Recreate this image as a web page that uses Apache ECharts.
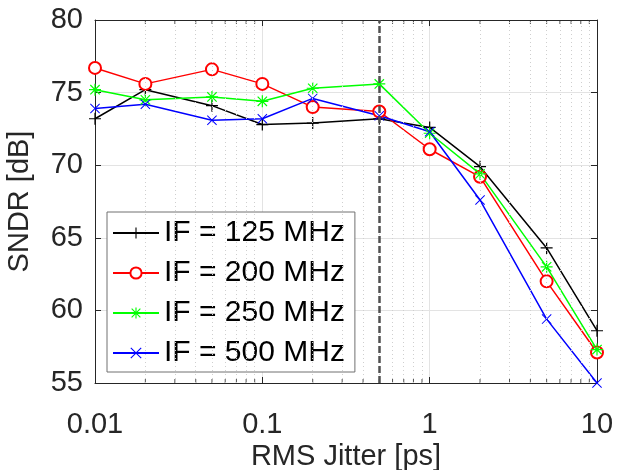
<!DOCTYPE html>
<html>
<head>
<meta charset="utf-8">
<script src="https://cdn.jsdelivr.net/npm/echarts@6/dist/echarts.min.js"></script>
<style>
html,body{margin:0;padding:0;background:#fff;}
#chart{width:621px;height:470px;}
</style>
</head>
<body>
<div id="chart"></div>
<script>
// ---- data ----
const jitter = [0.01, 0.02, 0.05, 0.1, 0.2, 0.5, 1, 2, 5, 10];
const seriesNames = ['IF = 125 MHz', 'IF = 200 MHz', 'IF = 250 MHz', 'IF = 500 MHz'];
const if125 = [73.2, 75.2, 74.1, 72.8, 72.9, 73.2, 72.6, 69.9, 64.3, 58.6];
const if200 = [76.7, 75.6, 76.6, 75.6, 74.0, 73.7, 71.1, 69.2, 62.0, 57.1];
const if250 = [75.2, 74.5, 74.7, 74.4, 75.3, 75.6, 72.2, 69.4, 63.0, 57.3];
const if500 = [73.9, 74.2, 73.1, 73.2, 74.6, 73.4, 72.3, 67.6, 59.4, 55.0];
const xTickLabels = ['0.01', '0.1', '1', '10'];
const yTicks = [55, 60, 65, 70, 75, 80];
const minorX = [0.02,0.03,0.04,0.05,0.06,0.07,0.08,0.09,0.2,0.3,0.4,0.5,0.6,0.7,0.8,0.9,2,3,4,5,6,7,8,9];
const refJitter = 0.5;

// ---- styling ----
const FONT = '"Liberation Sans", Arial, Helvetica, sans-serif';
const AX = '#262626';
const colors = ['#000000', '#ff0000', '#00ff00', '#0000ff'];
const symPlus = 'path://M9,0H11V20H9ZM0,9H20V11H0Z';
const symX = 'path://M0,1.4L1.4,0L20,18.6L18.6,20ZM18.6,0L20,1.4L1.4,20L0,18.6Z';
const symStar = 'path://M9,0H11V20H9ZM0,9H20V11H0ZM1.5,2.9L2.9,1.5L18.5,17.1L17.1,18.5ZM17.1,1.5L18.5,2.9L2.9,18.5L1.5,17.1Z';
const symbols = [symPlus, 'emptyCircle', symStar, symX];
const symSizes = [12, 12, 12, 10];
const values = [if125, if200, if250, if500];

const xLabelFmt = v => {
  const k = Math.round(Math.log10(v)) + 2;
  return xTickLabels[k] !== undefined ? xTickLabels[k] : '';
};

const dataSeries = seriesNames.map((name, i) => ({
  name: name,
  type: 'line',
  xAxisIndex: 0, yAxisIndex: 0,
  data: jitter.map((x, j) => [x, values[i][j]]),
  symbol: symbols[i],
  symbolSize: symSizes[i],
  showAllSymbol: true,
  z: 3,
  lineStyle: {color: colors[i], width: 1.5},
  itemStyle: symbols[i] === 'emptyCircle'
    ? {color: colors[i], borderColor: colors[i], borderWidth: 1.4}
    : {color: colors[i], borderWidth: 0},
  emphasis: {disabled: true},
  animation: false
}));

const minorTickSeries = {
  name: 'minorBottom', type: 'scatter', xAxisIndex: 0, yAxisIndex: 0,
  data: minorX.map(x => [x, yTicks[0]]),
  symbol: 'rect', symbolSize: [1, 4], symbolOffset: [0, -2],
  itemStyle: {color: AX}, silent: true, z: 1, animation: false,
  markLine: {
    silent: true, symbol: 'none', animation: false,
    label: {show: false},
    lineStyle: {color: '#cfcfcf', type: [1, 3], width: 1},
    data: minorX.map(x => ({xAxis: x}))
  }
};
const minorTickTop = {
  name: 'minorTop', type: 'scatter', xAxisIndex: 0, yAxisIndex: 0,
  data: minorX.map(x => [x, yTicks[yTicks.length - 1]]),
  symbol: 'rect', symbolSize: [1, 4], symbolOffset: [0, 2],
  itemStyle: {color: AX}, silent: true, z: 1, animation: false
};
const refSeries = {
  name: 'ref', type: 'line', xAxisIndex: 0, yAxisIndex: 0, data: [],
  z: 4, animation: false,
  markLine: {
    silent: true, symbol: 'none', animation: false,
    label: {show: false},
    lineStyle: {color: '#505050', type: [7, 3], width: 2.5},
    data: [{xAxis: refJitter}]
  }
};

const chart = echarts.init(document.getElementById('chart'), null, {renderer: 'canvas'});
chart.setOption({
  backgroundColor: '#ffffff',
  animation: false,
  textStyle: {fontFamily: FONT},
  grid: {left: 95, right: 24, top: 20, bottom: 87, containLabel: false, outerBoundsMode: 'none'},
  xAxis: [{
    type: 'log', logBase: 10, min: 0.01, max: 10, position: 'bottom',
    name: 'RMS Jitter [ps]', nameLocation: 'middle', nameGap: 59, nameMoveOverlap: false,
    nameTextStyle: {fontSize: 29, color: AX, fontFamily: FONT},
    axisLine: {show: true, lineStyle: {color: AX, width: 1}},
    axisTick: {show: true, inside: true, length: 6, lineStyle: {color: AX}},
    axisLabel: {fontSize: 29, color: AX, margin: 27, formatter: xLabelFmt, fontFamily: FONT, hideOverlap: false},
    splitLine: {show: true, lineStyle: {color: '#e3e3e3', width: 1}},
    minorTick: {show: false}, minorSplitLine: {show: false}
  }, {
    type: 'log', logBase: 10, min: 0.01, max: 10, position: 'top',
    axisLine: {show: true, lineStyle: {color: AX, width: 1}},
    axisTick: {show: true, inside: true, length: 6, lineStyle: {color: AX}},
    axisLabel: {show: false}, splitLine: {show: false}
  }],
  yAxis: [{
    type: 'value', min: yTicks[0], max: yTicks[yTicks.length - 1], interval: 5, position: 'left',
    name: 'SNDR [dB]', nameLocation: 'middle', nameGap: 61, nameMoveOverlap: false,
    nameTextStyle: {fontSize: 29, color: AX, fontFamily: FONT},
    axisLine: {show: true, lineStyle: {color: AX, width: 1}},
    axisTick: {show: true, inside: true, length: 6, lineStyle: {color: AX}},
    axisLabel: {fontSize: 29, color: AX, margin: 12, fontFamily: FONT},
    splitLine: {show: true, lineStyle: {color: '#e3e3e3', width: 1}}
  }, {
    type: 'value', min: yTicks[0], max: yTicks[yTicks.length - 1], interval: 5, position: 'right',
    axisLine: {show: true, lineStyle: {color: AX, width: 1}},
    axisTick: {show: true, inside: true, length: 6, lineStyle: {color: AX}},
    axisLabel: {show: false}, splitLine: {show: false}
  }],
  legend: {
    data: seriesNames,
    orient: 'vertical', left: 107, top: 212,
    padding: [6, 10, 4, 5], itemGap: 10,
    itemWidth: 46, itemHeight: 14,
    backgroundColor: '#ffffff', borderColor: '#707070', borderWidth: 1, borderRadius: 0,
    textStyle: {fontSize: 30, color: '#000', fontFamily: FONT, lineHeight: 28, padding: [0,0,0,0]},
    selectedMode: false
  },
  series: [minorTickSeries, minorTickTop, refSeries].concat(dataSeries)
});
</script>
</body>
</html>
